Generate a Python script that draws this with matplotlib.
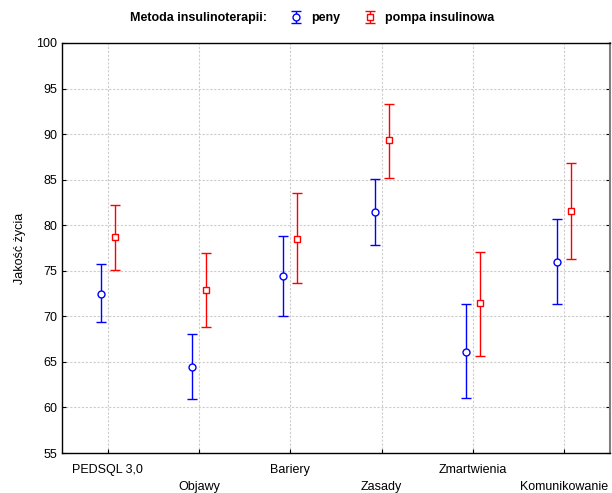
import matplotlib
matplotlib.use("Agg")
import matplotlib.pyplot as plt
import numpy as np

plt.rcParams["font.family"] = ["Liberation Sans", "DejaVu Sans"]

# data (mean, lower and upper end of the bar)
categories = ["PEDSQL 3,0", "Objawy", "Bariery", "Zasady", "Zmartwienia", "Komunikowanie"]

peny_mean = [72.5, 64.4, 74.4, 81.4, 66.1, 76.0]
peny_low = [69.4, 60.9, 70.0, 77.8, 61.0, 71.4]
peny_high = [75.7, 68.1, 78.8, 85.1, 71.3, 80.7]

pompa_mean = [78.7, 72.9, 78.5, 89.3, 71.5, 81.6]
pompa_low = [75.1, 68.8, 73.7, 85.2, 65.7, 76.3]
pompa_high = [82.2, 76.9, 83.5, 93.3, 77.1, 86.8]

yticks = [55, 60, 65, 70, 75, 80, 85, 90, 95, 100]

fig = plt.figure(figsize=(6.12, 4.93), dpi=100)
ax = fig.add_axes([0.1013, 0.0811, 0.8954, 0.8317])

x = np.arange(len(categories))
off = 0.075

pm = np.array(peny_mean)
pe = [pm - np.array(peny_low), np.array(peny_high) - pm]
qm = np.array(pompa_mean)
qe = [qm - np.array(pompa_low), np.array(pompa_high) - qm]

h1 = ax.errorbar(x - off, pm, yerr=pe, fmt="o", color="#0000ff", mfc="white",
                 mec="#0000ff", ms=5, mew=1, capsize=3.5, elinewidth=1,
                 capthick=1, zorder=3)
h2 = ax.errorbar(x + off, qm, yerr=qe, fmt="s", color="#ff0000", mfc="white",
                 mec="#ff0000", ms=5, mew=1, capsize=3.5, elinewidth=1,
                 capthick=1, zorder=3)

ax.set_xlim(-0.5, len(categories) - 0.5)
ax.set_ylim(55, 100)
ax.set_yticks(yticks)
ax.set_xticks(x)
labels = ax.set_xticklabels([c if i % 2 == 0 else "\n" + c for i, c in enumerate(categories)])
for lab in labels:
    lab.set_linespacing(1.5)
ax.tick_params(axis="both", direction="in", labelsize=9, length=3, width=0.8)
ax.tick_params(axis="y", right=True)
ax.tick_params(axis="x", pad=8)

ax.grid(True, color="#cccccc", linestyle=(0, (2, 1.5)), linewidth=0.8, zorder=0)
ax.set_axisbelow(True)

for s in ["left", "bottom", "top"]:
    ax.spines[s].set_color("black")
    ax.spines[s].set_linewidth(1.0)
ax.spines["right"].set_color("#808080")
ax.spines["right"].set_linewidth(1.5)

ax.set_ylabel("Jakość życia", fontsize=9, labelpad=7)

fig.text(0.212, 0.963, "Metoda insulinoterapii:", fontsize=9, fontweight="bold",
         va="center", ha="left")
fig.legend([h1, h2], ["peny", "pompa insulinowa"], ncol=2, loc="center left",
           bbox_to_anchor=(0.455, 0.963), frameon=False,
           prop={"size": 9, "weight": "bold"}, handlelength=1.8,
           handletextpad=0.3, columnspacing=1.5, borderpad=0)

fig.savefig("out.png", dpi=100)
